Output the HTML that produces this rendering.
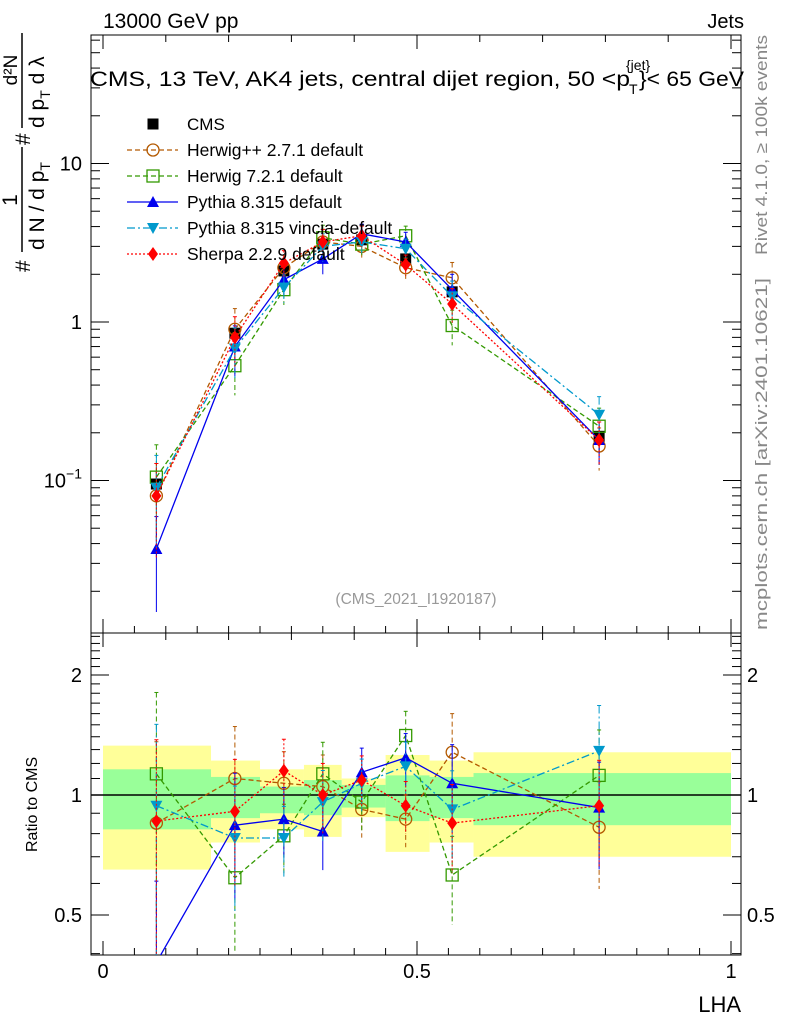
<!DOCTYPE html>
<html><head><meta charset="utf-8"><style>
html,body{margin:0;padding:0;background:#fff;overflow:hidden;width:786px;height:1024px;}
svg{display:block;font-family:"Liberation Sans",sans-serif;}
</style></head><body>
<svg id="c" width="786" height="1024" viewBox="0 0 786 1024" xmlns="http://www.w3.org/2000/svg">
<text x="103" y="28" font-size="21">13000 GeV pp</text>
<text x="744" y="28" font-size="20" text-anchor="end">Jets</text>
<g font-size="21">
<text x="90" y="86" textLength="540" lengthAdjust="spacingAndGlyphs">CMS, 13 TeV, AK4 jets, central dijet region, 50 &lt;p</text>
<text x="629" y="94" font-size="14">T</text>
<text x="626" y="70" font-size="14">{jet}</text>
<text x="639" y="86" textLength="105" lengthAdjust="spacingAndGlyphs">}&lt; 65 GeV</text>
</g>
<text x="0" y="0" font-size="17" fill="#888" textLength="220" lengthAdjust="spacingAndGlyphs" transform="translate(767,255) rotate(-90)">Rivet 4.1.0, ≥ 100k events</text>
<text x="0" y="0" font-size="17" fill="#888" textLength="352" lengthAdjust="spacingAndGlyphs" transform="translate(767,630) rotate(-90)">mcplots.cern.ch [arXiv:2401.10621]</text>
<text x="416" y="604" font-size="15.5" fill="#999" text-anchor="middle">(CMS_2021_I1920187)</text>
<g font-size="21">
<text transform="translate(30,272) rotate(-90)">#</text>
<line x1="22" y1="252" x2="22" y2="147" stroke="#000" stroke-width="1.5"/>
<text transform="translate(17,200) rotate(-90)" text-anchor="middle">1</text>
<text transform="translate(44,250) rotate(-90)">d N / d p<tspan font-size="14" dy="6">T</tspan></text>
<text transform="translate(30,145) rotate(-90)">#</text>
<line x1="22" y1="128" x2="22" y2="33" stroke="#000" stroke-width="1.5"/>
<text transform="translate(17,70) rotate(-90)" text-anchor="middle" font-size="19">d²N</text>
<text transform="translate(44,128) rotate(-90)">d p<tspan font-size="14" dy="6">T</tspan><tspan dy="-6"> d λ</tspan></text>
</g>
<text x="0" y="0" font-size="16" transform="translate(37,852) rotate(-90)">Ratio to CMS</text>
<text x="741" y="1012" font-size="22" text-anchor="end">LHA</text>
<g id="g"></g>
</svg>
<script>
const xCenters=[0.085,0.21,0.288,0.35,0.412,0.482,0.556,0.79];
const binEdges=[0,0.172,0.25,0.32,0.38,0.45,0.52,0.59,1.0];
const cms=[0.095,0.85,2.1,3.1,3.3,2.5,1.55,0.19];
const cmsErr=[0.25,0.15,0.12,0.1,0.08,0.1,0.12,0.2];
const bandYellowHi=[1.33,1.22,1.16,1.19,1.1,1.26,1.22,1.28];
const bandYellowLo=[0.65,0.76,0.82,0.785,0.88,0.72,0.76,0.7];
const bandGreenHi=[1.16,1.11,1.05,1.09,1.06,1.12,1.11,1.135];
const bandGreenLo=[0.82,0.875,0.9,0.89,0.93,0.86,0.875,0.84];
const herwigpp=[0.08,0.9,2.2,3.2,3.0,2.2,1.9,0.165];
const herwig7=[0.105,0.53,1.6,3.4,3.1,3.5,0.95,0.22];
const pythia=[0.037,0.7,1.85,2.5,3.6,3.2,1.6,0.18];
const vincia=[0.09,0.68,1.65,3.0,3.2,2.9,1.45,0.26];
const sherpa=[0.08,0.8,2.35,3.2,3.5,2.3,1.3,0.18];
const rHerwigpp=[0.85,1.1,1.07,1.05,0.92,0.87,1.28,0.83];
const rHerwig7=[1.13,0.62,0.79,1.13,0.96,1.41,0.63,1.12];
const rPythia=[0.38,0.84,0.87,0.81,1.14,1.24,1.07,0.93];
const rVincia=[0.94,0.78,0.78,0.96,1.07,1.18,0.92,1.29];
const rSherpa=[0.86,0.91,1.15,1.0,1.09,0.94,0.85,0.94];
const mcErr=[0.6,0.35,0.2,0.2,0.15,0.15,0.25,0.3];
const xTicks=[0,0.5,1];
const xTickLabels=["0","0.5","1"];

const NS="http://www.w3.org/2000/svg";
const g=document.getElementById('g');
function el(t,a,p){const e=document.createElementNS(NS,t);for(const k in a)e.setAttribute(k,a[k]);(p||g).appendChild(e);return e;}
const L=91,R=741,T1=35,B1=633,B2=955;
const X=v=>103+628*v;
const Y=v=>322-158.5*Math.log10(v);
const YR=v=>795-120*Math.log2(v);

for(let i=0;i<8;i++){
 let r=el('rect',{x:X(binEdges[i]),y:YR(bandYellowHi[i]),width:X(binEdges[i+1])-X(binEdges[i]),height:YR(bandYellowLo[i])-YR(bandYellowHi[i]),fill:'#ffff99'});
 
 
}
for(let i=0;i<8;i++){
 let r=el('rect',{x:X(binEdges[i]),y:YR(bandGreenHi[i]),width:X(binEdges[i+1])-X(binEdges[i]),height:YR(bandGreenLo[i])-YR(bandGreenHi[i]),fill:'#99ff99'});
 
 
}
let one=el('line',{x1:L,x2:R,y1:YR(1),y2:YR(1),stroke:'#000','stroke-width':1.5});



for(const [t,b] of [[T1,B1],[B1,B2]]){
 let f=el('rect',{x:L,y:t,width:R-L,height:b-t,fill:'none',stroke:'#000','stroke-width':1});
 
 
}
for(let k=0;k<=10;k++){
 const v=k/10;const maj=(k%5==0);const len=maj?14:7;
 for(const [t,b] of [[T1,B1],[B1,B2]]){
  el('line',{x1:X(v),x2:X(v),y1:b,y2:b-len,stroke:'#000'});
  el('line',{x1:X(v),x2:X(v),y1:t,y2:t+len,stroke:'#000'});
 }
}
for(let k=0;k<10;k++){const v=k/10+0.05;for(const b of [B1,B2]){el('line',{x1:X(v),x2:X(v),y1:b,y2:b-7,stroke:'#000'});}}
xTicks.forEach((v,i)=>{let t=el('text',{x:X(v),y:978,'font-size':20,'text-anchor':'middle'});t.textContent=xTickLabels[i];
 });
for(let e=-2;e<=1;e++){for(let m=1;m<10;m++){const v=m*Math.pow(10,e);const y=Y(v);if(y<T1||y>B1)continue;const len=m==1?18:9;
 el('line',{x1:L,x2:L+len,y1:y,y2:y,stroke:'#000'});el('line',{x1:R,x2:R-len,y1:y,y2:y,stroke:'#000'});}}
[[10,"10"],[1,"1"]].forEach(([v,s])=>{let t=el('text',{x:82,y:Y(v)+7,'font-size':20,'text-anchor':'end'});t.textContent=s;
 });
let t01=el('text',{x:82,y:Y(0.1)+7,'font-size':20,'text-anchor':'end'});t01.innerHTML='10<tspan font-size="14" dy="-9">−1</tspan>';

for(let k=4;k<=25;k++){const v=k/10;const y=YR(v);if(y<B1||y>B2)continue;const maj=(k==5||k==10||k==20);const len=maj?18:9;
 el('line',{x1:L,x2:L+len,y1:y,y2:y,stroke:'#000'});el('line',{x1:R,x2:R-len,y1:y,y2:y,stroke:'#000'});}
[[2,"2"],[1,"1"],[0.5,"0.5"]].forEach(([v,s])=>{for(const [x,a] of [[82,'end'],[747,'start']]){let t=el('text',{x:x,y:YR(v)+7,'font-size':20,'text-anchor':a});t.textContent=s;
 }});

function marker(kind,x,y,col,parent){
 if(kind=='sq') return el('rect',{x:x-6,y:y-6,width:12,height:12,fill:'none',stroke:col,'stroke-width':1.3},parent);
 if(kind=='fsq') return el('rect',{x:x-5.5,y:y-5.5,width:11,height:11,fill:col},parent);
 if(kind=='circ') return el('circle',{cx:x,cy:y,r:6,fill:'none',stroke:col,'stroke-width':1.3},parent);
 if(kind=='tri') return el('polygon',{points:`${x},${y-6} ${x-6},${y+5} ${x+6},${y+5}`,fill:col},parent);
 if(kind=='tri2') return el('polygon',{points:`${x},${y+6} ${x-6},${y-5} ${x+6},${y-5}`,fill:col},parent);
 if(kind=='dia') return el('polygon',{points:`${x},${y-7} ${x-5},${y} ${x},${y+7} ${x+5},${y}`,fill:col},parent);
}
const series=[
 {name:'herwigpp',vals:herwigpp,r:rHerwigpp,col:'#b35900',dash:'5,3',mk:'circ',label:'Herwig++ 2.7.1 default'},
 {name:'herwig7',vals:herwig7,r:rHerwig7,col:'#339900',dash:'5,3',mk:'sq',label:'Herwig 7.2.1 default'},
 {name:'pythia',vals:pythia,r:rPythia,col:'#0000ee',dash:'',mk:'tri',label:'Pythia 8.315 default'},
 {name:'vincia',vals:vincia,r:rVincia,col:'#0099cc',dash:'8,3,2,3',mk:'tri2',label:'Pythia 8.315 vincia-default'},
 {name:'sherpa',vals:sherpa,r:rSherpa,col:'#ff0000',dash:'2,2',mk:'dia',label:'Sherpa 2.2.9 default'}];
const defs=el('defs',{});
el('rect',{x:L,y:T1,width:R-L,height:B1-T1},el('clipPath',{id:'c1'},defs));
el('rect',{x:L,y:B1,width:R-L,height:B2-B1},el('clipPath',{id:'c2'},defs));
const g1=el('g',{'clip-path':'url(#c1)'});const g2=el('g',{'clip-path':'url(#c2)'});
cms.forEach((v,i)=>{const x=X(xCenters[i]);
 el('line',{x1:x,x2:x,y1:Y(v*(1+cmsErr[i])),y2:Y(v*(1-cmsErr[i])),stroke:'#000'},g1);
 let m=marker('fsq',x,Y(v),'#000',g1);});
series.forEach(s=>{
 for(const [grp,vals,F] of [[g1,s.vals,Y],[g2,s.r,YR]]){
  const pts=vals.map((v,i)=>X(xCenters[i])+','+F(v)).join(' ');
  let pl=el('polyline',{points:pts,fill:'none',stroke:s.col,'stroke-width':1.3,'stroke-dasharray':s.dash},grp);
  
  vals.forEach((v,i)=>{const x=X(xCenters[i]);const e=mcErr[i];
   el('line',{x1:x,x2:x,y1:F(v*(1+e)),y2:F(Math.max(v*(1-e),0.001)),stroke:s.col,'stroke-dasharray':s.dash},grp);
   el('line',{x1:x-2,x2:x+2,y1:F(v*(1+e)),y2:F(v*(1+e)),stroke:s.col},grp);
   let m=marker(s.mk,x,F(v),s.col,grp);});
 }
});
const lg=el('g',{});
marker('fsq',153,124,'#000',lg);
let lt=el('text',{x:187,y:130,'font-size':17},lg);lt.textContent='CMS';
series.forEach((s,i)=>{const y=150+26*i;
 el('line',{x1:127,x2:178,y1:y,y2:y,stroke:s.col,'stroke-width':1.3,'stroke-dasharray':s.dash},lg);
 marker(s.mk,153,y,s.col,lg);
 let t=el('text',{x:187,y:y+6,'font-size':17.5},lg);t.textContent=s.label;
 });
</script>
</body></html>
